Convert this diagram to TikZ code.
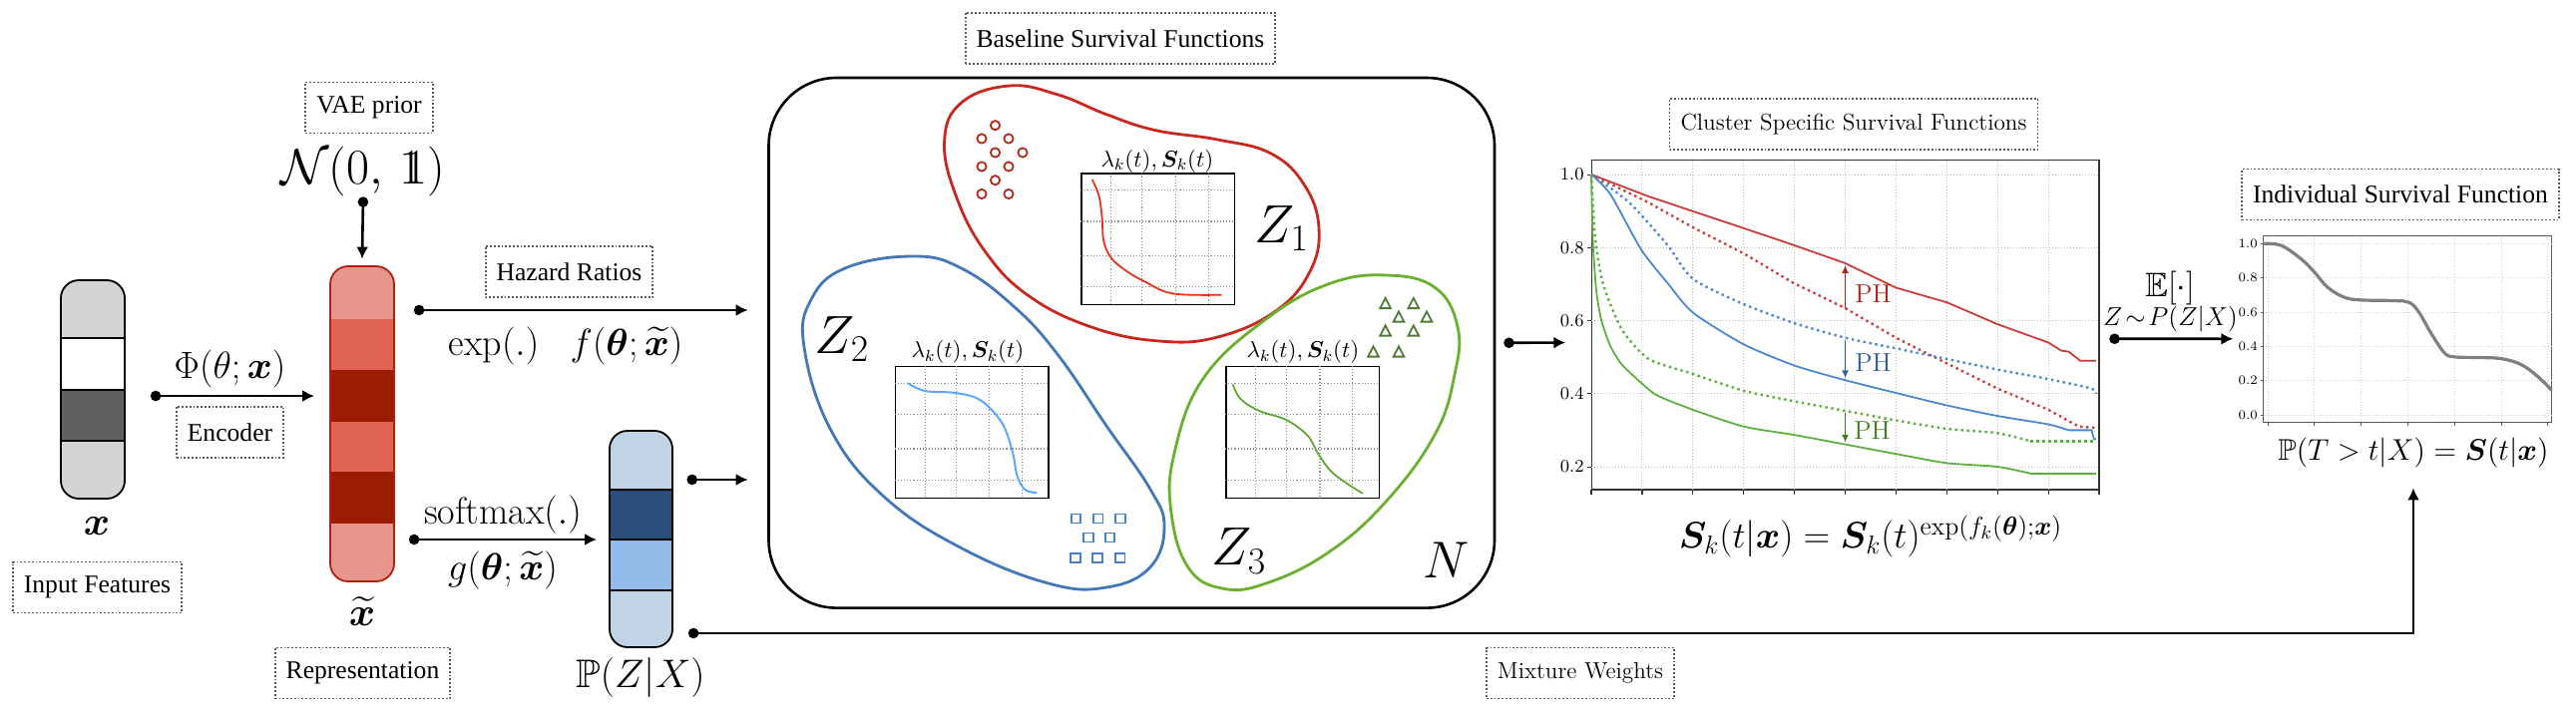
\RequirePackage{fix-cm}
\documentclass[tikz,border=0pt]{standalone}
\usepackage{amsmath,amssymb}
\usepackage{bm}
\usepackage{fontspec}
\newfontfamily\tms{Liberation Serif}
\usetikzlibrary{arrows.meta,calc}
\newcommand\onebb{\mathrm{1\kern-0.36em1}}
\definecolor{lgr}{HTML}{D4D4D4}
\definecolor{dgr}{HTML}{606060}
\definecolor{rlight}{HTML}{E8958C}
\definecolor{rmed}{HTML}{E06451}
\definecolor{rdark}{HTML}{9B1C03}
\definecolor{rborder}{HTML}{B02010}
\definecolor{blight}{HTML}{C1D4E6}
\definecolor{bdark}{HTML}{2D4D7C}
\definecolor{bmed}{HTML}{94BBEA}
\definecolor{redb}{HTML}{C8281E}
\definecolor{blueb}{HTML}{4377B8}
\definecolor{greenb}{HTML}{6AB02E}
\definecolor{redm}{HTML}{B02A1A}
\definecolor{bluem}{HTML}{4A7EC8}
\definecolor{greenm}{HTML}{4F7B38}
\definecolor{redc}{HTML}{E8321E}
\definecolor{bluec}{HTML}{5BA8FF}
\definecolor{greenc}{HTML}{5DA832}
\definecolor{pr}{HTML}{CC3C3A}
\definecolor{pb}{HTML}{4A88D0}
\definecolor{pg}{HTML}{5DB040}
\definecolor{phr}{HTML}{B22418}
\definecolor{phb}{HTML}{2E5E9E}
\definecolor{phg}{HTML}{3F7F1F}
\newcommand\minigrid{%
  \foreach \a in {0.2,0.4,0.62,0.835} {\draw[gridl] (\a,0) -- (\a,1);}
  \foreach \b in {0.13,0.37,0.63,0.87} {\draw[gridl] (0,\b) -- (1,\b);}}
\tikzset{
  lbl/.style={draw=black!65, densely dotted, line width=0.9pt, minimum height=25.5pt,
    inner xsep=5.5pt, font=\tms\fontsize{12.8}{14}\selectfont},
  lblm/.style={lbl, font=\fontsize{11.6}{14}\selectfont},
  conn/.style={line width=1.3pt, {Circle[length=5.2pt]}-{Latex[length=6pt,width=6pt]}},
  mlbl/.style={inner sep=0pt, font=\fontsize{19}{22}\selectfont},
  gridl/.style={black!45, densely dotted, line width=0.55pt},
  chart/.style={draw, line width=0.7pt, inner sep=0pt, minimum width=76.7pt, minimum height=65.8pt},
  blob/.style={line width=1.4pt},
  cgrid/.style={black!25, densely dotted, line width=0.5pt},
  csolid/.style={line width=0.9pt},
  cdot/.style={line width=1.2pt, dash pattern=on 1.2pt off 1.8pt},
  tickl/.style={font=\fontsize{9}{10}\selectfont, anchor=east, inner sep=1pt},
  tickm/.style={font=\fontsize{6.5}{8}\selectfont, anchor=east, inner sep=1pt},
  phl/.style={font=\fontsize{13}{15}\selectfont, anchor=west, inner sep=0pt},
}
\begin{document}
\begin{tikzpicture}[x=0.5pt,y=-0.5pt]
\useasboundingbox (0,0) rectangle (2582,723);

% ---------- input feature bar
\begin{scope}
\clip[rounded corners=9pt] (61,281) rectangle (125,500);
\fill[lgr] (61,281) rectangle (125,339);
\fill[white] (61,339) rectangle (125,391);
\fill[dgr] (61,391) rectangle (125,442);
\fill[lgr] (61,442) rectangle (125,500);
\draw[line width=0.9pt] (61,339) -- (125,339) (61,391) -- (125,391) (61,442) -- (125,442);
\end{scope}
\node[draw, line width=0.9pt, rounded corners=9pt, minimum width=32pt, minimum height=109.5pt, inner sep=0pt] (xin) at (93,390.5) {};
\node[mlbl, font=\fontsize{20}{22}\selectfont] (xlab) at (97,528) {$\bm{x}$};
\node[lbl] (lin) at (97.5,589) {Input Features};

% ---------- representation bar
\begin{scope}
\clip[rounded corners=9pt] (331,267) rectangle (395,583);
\fill[rlight] (331,267) rectangle (395,320);
\fill[rmed] (331,320) rectangle (395,371);
\fill[rdark] (331,371) rectangle (395,423);
\fill[rmed] (331,423) rectangle (395,473);
\fill[rdark] (331,473) rectangle (395,525);
\fill[rlight] (331,525) rectangle (395,583);
\end{scope}
\node[draw=rborder, line width=0.9pt, rounded corners=9pt, minimum width=32pt, minimum height=158pt, inner sep=0pt] (rep) at (363,425) {};
\node[mlbl, font=\fontsize{20}{22}\selectfont] (replab) at (363,613) {$\widetilde{\bm{x}}$};
\node[lbl] (lrep) at (363.5,675) {Representation};

% ---------- prior
\node[lbl] (lvae) at (370,108) {VAE prior};
\node[mlbl, font=\fontsize{25}{28}\selectfont] (prior) at (364,172) {$\mathcal{N}(0,\,\onebb)$};
\draw[conn] (prior.south) -- ([yshift=3.25pt]rep.north);

% ---------- encoder
\draw[conn] ([xshift=12.5pt,yshift=-3.25pt]xin.east) -- ([xshift=-7.5pt,yshift=14pt]rep.west);
\node[mlbl] (phi) at (230.5,370) {$\Phi(\theta;\bm{x})$};
\node[lbl] (lenc) at (230.5,433.5) {Encoder};

% ---------- P(Z|X) bar
\begin{scope}
\clip[rounded corners=9pt] (611,432) rectangle (674,649);
\fill[blight] (611,432) rectangle (674,491);
\fill[bdark] (611,491) rectangle (674,541);
\fill[bmed] (611,541) rectangle (674,592);
\fill[blight] (611,592) rectangle (674,649);
\draw[line width=0.9pt] (611,491) -- (674,491) (611,541) -- (674,541) (611,592) -- (674,592);
\end{scope}
\node[draw, line width=0.9pt, rounded corners=9pt, minimum width=31.5pt, minimum height=108.5pt, inner sep=0pt] (pz) at (642.5,540.5) {};
\node[mlbl, font=\fontsize{20}{22}\selectfont] (pzlab) at (642,679) {$\mathbb{P}(Z|X)$};

% ---------- big box
\node[draw, line width=1.3pt, rounded corners=34pt, minimum width=363.75pt, minimum height=265.8pt, inner sep=0pt] (bigbox) at (1134.25,343.8) {};
\node[lbl] (lbase) at (1123,38.3) {Baseline Survival Functions};

% hazard / softmax connectors
\draw[conn] ([xshift=9.5pt,yshift=57pt]rep.east) -- ([xshift=-9.75pt,yshift=16.4pt]bigbox.west);
\node[lbl] (lhaz) at (570.5,272.5) {Hazard Ratios};
\node[mlbl] (expl) at (495,347) {$\exp(.)$};
\node[mlbl] (fl) at (628,347) {$f(\bm{\theta};\widetilde{\bm{x}})$};
\draw[conn] ([xshift=7pt,yshift=-58pt]rep.east) -- ([xshift=-6pt,yshift=-0.25pt]pz.west);
\node[mlbl] (smax) at (504,516) {$\mathrm{softmax}(.)$};
\node[mlbl] (gl) at (504,572) {$g(\bm{\theta};\widetilde{\bm{x}})$};
\draw[conn] ([xshift=6.8pt,yshift=29.75pt]pz.east) -- ([xshift=-9.75pt,yshift=-68.6pt]bigbox.west);

% ---------- blobs
\draw[blob, draw=redb] plot[smooth cycle, tension=0.7] coordinates {(946.6,142) (963.6,103) (1012,86) (1060.5,95) (1109,114.7) (1157.5,130.5) (1220.5,140) (1274,154) (1307.7,186) (1322,229) (1312.6,273) (1278.6,312) (1220.5,338) (1162,342) (1094,328) (1031,296.6) (988,253) (958.7,197.7)};
\draw[blob, draw=blueb] plot[smooth cycle, tension=0.7] coordinates {(806,348) (813,300.5) (847,269) (915,257) (963.6,269) (1017,308) (1060.5,356) (1109,427) (1152.6,490) (1167,528) (1152.6,569) (1109,589) (1051,585) (963.6,549.6) (886,498) (832.7,431)};
\draw[blob, draw=greenb] plot[smooth cycle, tension=0.7] coordinates {(1390,276) (1438.6,288.6) (1461,328) (1458,375.6) (1438.6,435) (1390,502) (1332,553.6) (1269,585) (1225,590) (1191,569) (1174,514) (1177,454.7) (1206,379.6) (1269,320) (1332,284.7)};

% markers
\foreach \p in {(997.5,125.7),(984,139),(1011,139),(997.5,153),(1025,153),(984,167),(1011,167),(997.5,180.7),(984,194.5),(1011,194.5)}
  \draw[redm, line width=0.9pt] \p circle[radius=4.6];
\foreach \p in {(1078.4,520),(1100.7,520),(1123,520),(1091,539),(1112.4,539),(1078,559.5),(1100,559.5),(1122.6,559.5)}
  \draw[bluem, line width=0.9pt] \p ++(-4.8,-4.5) rectangle ++(9.6,9);
\foreach \p in {(1388.6,304.5),(1416.8,304.5),(1402,318),(1430,318),(1388.6,332),(1416.8,332),(1376.5,353),(1402,353)}
  \draw[greenm, line width=0.9pt] \p ++(-5.3,4.6) -- ++(10.6,0) -- ++(-5.3,-10.2) -- cycle;

% mini charts
\node[chart] (c1) at (1160.6,239.8) {};
\node[chart] (c2) at (974.2,433.55) {};
\node[chart] (c3) at (1305.5,433.55) {};
\begin{scope}[shift={(c1.north west)}]\begin{scope}[x=76.8pt,y=-65.8pt]
\minigrid
\draw[redc, line width=0.9pt] plot[smooth, tension=0.6] coordinates {(0.075,0.05) (0.12,0.18) (0.14,0.35) (0.15,0.52) (0.2,0.65) (0.3,0.75) (0.42,0.83) (0.6,0.92) (0.92,0.93)};
\end{scope}\end{scope}
\begin{scope}[shift={(c2.north west)}]\begin{scope}[x=76.6pt,y=-65.85pt]
\minigrid
\draw[bluec, line width=1pt] plot[smooth, tension=0.6] coordinates {(0.085,0.13) (0.2,0.19) (0.4,0.205) (0.56,0.26) (0.7,0.43) (0.77,0.65) (0.8,0.83) (0.85,0.94) (0.93,0.965)};
\end{scope}\end{scope}
\begin{scope}[shift={(c3.north west)}]\begin{scope}[x=76.5pt,y=-65.85pt]
\minigrid
\draw[greenc, line width=0.9pt] plot[smooth, tension=0.6] coordinates {(0.05,0.14) (0.1,0.25) (0.22,0.34) (0.4,0.41) (0.54,0.53) (0.61,0.67) (0.71,0.82) (0.9,0.97)};
\end{scope}\end{scope}
\node[inner sep=0pt, font=\fontsize{11.5}{13}\selectfont] (lam1) at (1160,161.7) {$\lambda_k(t),\bm{S}_k(t)$};
\node[inner sep=0pt, font=\fontsize{11.5}{13}\selectfont] (lam2) at (970,353) {$\lambda_k(t),\bm{S}_k(t)$};
\node[inner sep=0pt, font=\fontsize{11.5}{13}\selectfont] (lam3) at (1306,353) {$\lambda_k(t),\bm{S}_k(t)$};

\node[inner sep=0pt, font=\fontsize{27}{30}\selectfont] (z1) at (1284.7,229) {$Z_1$};
\node[inner sep=0pt, font=\fontsize{27}{30}\selectfont] (z2) at (844,340) {$Z_2$};
\node[inner sep=0pt, font=\fontsize{27}{30}\selectfont] (z3) at (1242,552.5) {$Z_3$};
\node[inner sep=0pt, font=\fontsize{26}{30}\selectfont] (nn) at (1450,561.5) {$N$};

% ---------- cluster specific plot
\node[lblm] (lclu) at (1858,124.5) {Cluster Specific Survival Functions};
\node[draw=black!80, line width=0.7pt, minimum width=254.3pt, minimum height=165.25pt, inner sep=0pt] (cplot) at (1849.7,325.75) {};
\draw[conn] ([xshift=4pt]bigbox.east) -- ([xshift=-12.7pt,yshift=-8.9pt]cplot.west);
\begin{scope}[shift={(1595,541.25)}]\begin{scope}[x=25.45pt,y=183.125pt]
\foreach \t in {1,...,9} \draw[cgrid] (\t,0.137) -- (\t,1.039);
\foreach \v in {0.2,0.4,0.6,0.8,1.0} \draw[cgrid] (0,\v) -- (9.99,\v);
\foreach \t in {0,...,10} \draw[black!80, line width=0.6pt] (\t,0.137) -- (\t,0.124);
\foreach \v in {0.2,0.4,0.6,0.8,1.0} {\draw[black!80, line width=0.5pt] (0,\v) -- (-0.07,\v); \node[tickl] at (-0.1,\v) {\v};}
\draw[pr, csolid] plot coordinates {(0,1) (0.376,0.98) (1.13,0.94) (1.88,0.905) (3,0.853) (3.98,0.807) (5,0.757) (6,0.69) (7,0.65) (8,0.59) (9,0.54) (9.25,0.518) (9.4,0.515) (9.63,0.49) (9.94,0.49)};
\draw[pr, cdot] plot coordinates {(0,1) (1.13,0.923) (2.03,0.853) (3,0.784) (3.98,0.703) (5,0.634) (6,0.553) (7,0.483) (8,0.414) (9,0.356) (9.6,0.31) (9.94,0.306)};
\draw[pb, csolid] plot[smooth, tension=0.4] coordinates {(0,1) (0.376,0.946) (0.98,0.795) (1.5,0.703) (2,0.622) (3,0.535) (4,0.477) (5,0.437) (6,0.402) (7,0.368) (8,0.339) (9,0.316) (9.4,0.30)};
\draw[pb, csolid] (9.4,0.30) -- (9.85,0.30) -- (9.9,0.276) -- (9.94,0.276);
\draw[pb, cdot] plot[smooth, tension=0.4] coordinates {(0,1) (0.75,0.923) (1.5,0.807) (2,0.714) (3,0.645) (4,0.593) (5,0.553) (6,0.524) (7,0.495) (8,0.466) (9,0.44) (9.85,0.414) (9.94,0.40)};
\draw[pg, csolid] plot[smooth, tension=0.4] coordinates {(0,1) (0.03,0.82) (0.1,0.68) (0.2,0.6) (0.376,0.53) (0.6,0.48) (0.98,0.43) (1.3,0.395) (2,0.356) (3,0.31) (4,0.287) (5,0.261) (6,0.235) (7,0.21) (8,0.2) (8.7,0.18)};
\draw[pg, csolid] (8.7,0.18) -- (9.94,0.18);
\draw[pg, cdot] plot[smooth, tension=0.4] coordinates {(0,1) (0.075,0.83) (0.226,0.703) (0.6,0.576) (1.13,0.495) (2,0.454) (3,0.408) (4,0.379) (5,0.353) (6,0.327) (7,0.304) (8,0.292) (8.65,0.27)};
\draw[pg, cdot] (8.65,0.27) -- (9.94,0.27);
\draw[phr, line width=0.8pt, -{Latex[length=4pt,width=3.5pt]}] (5,0.634) -- (5,0.752);
\draw[phb, line width=0.8pt, -{Latex[length=4pt,width=3.5pt]}] (5,0.547) -- (5,0.442);
\draw[phg, line width=0.8pt, -{Latex[length=4pt,width=3.5pt]}] (5,0.347) -- (5,0.266);
\end{scope}\end{scope}
\node[phl, text=phr] (ph1) at (1859,294.6) {PH};
\node[phl, text=phb] (ph2) at (1859,363.6) {PH};
\node[phl, text=phg] (ph3) at (1858,432) {PH};
\node[inner sep=0pt, font=\fontsize{18.5}{21}\selectfont] (cform) at (1875,537.8) {$\bm{S}_k(t|\bm{x})=\bm{S}_k(t)^{\exp(f_k(\bm{\theta});\bm{x})}$};

% ---------- individual plot
\node[lbl] (lind) at (2406,195) {Individual Survival Function};
\node[draw=black!65, line width=0.6pt, minimum width=144.55pt, minimum height=93.4pt, inner sep=0pt] (iplot) at (2413.05,329.9) {};
\draw[conn] ([xshift=4.8pt,yshift=-7pt]cplot.east) -- ([xshift=-14.75pt,yshift=-4.95pt]iplot.west);
\node[inner sep=0pt, font=\fontsize{17}{19}\selectfont] (expect) at (2175,289) {$\mathbb{E}[\cdot]$};
\node[inner sep=0pt, font=\fontsize{13}{15}\selectfont] (zsim) at (2175.5,320) {$Z\!\sim\! P(Z|X)$};
\begin{scope}[shift={(2273,416)}]\begin{scope}[x=23.4pt,y=85.8pt]
\foreach \t in {0,...,6} \draw[black!18, densely dotted, line width=0.4pt] (\t,-0.0425) -- (\t,1.046);
\foreach \v in {0.0,0.2,0.4,0.6,0.8,1.0} \draw[black!18, densely dotted, line width=0.4pt] (-0.096,\v) -- (6.08,\v);
\foreach \t in {0,...,6} \draw[black!65, line width=0.5pt] (\t,-0.0425) -- (\t,-0.065);
\foreach \v in {0.0,0.2,0.4,0.6,0.8,1.0} {\draw[black!65, line width=0.4pt] (-0.096,\v) -- (-0.15,\v); \node[tickm] at (-0.17,\v) {\v};}
\draw[black!50, line width=1.6pt] plot[smooth, tension=0.6] coordinates {(-0.096,1.0) (0.285,0.99) (0.71,0.912) (1.0,0.834) (1.28,0.746) (1.64,0.687) (2.0,0.671) (2.71,0.667) (3.03,0.657) (3.24,0.599) (3.49,0.481) (3.78,0.364) (3.99,0.339) (4.49,0.335) (4.99,0.329) (5.42,0.295) (5.77,0.227) (6.08,0.145)};
\end{scope}\end{scope}
\node[inner sep=0pt, font=\fontsize{15}{17}\selectfont] (pform) at (2419,454) {$\mathbb{P}(T>t|X)=\bm{S}(t|\bm{x})$};

% ---------- mixture weights
\draw[conn, rounded corners=0pt] ([xshift=7.5pt,yshift=-47.25pt]pz.east) -| ([yshift=-10pt]pform.south);
\node[lblm] (lmix) at (1584,675) {Mixture Weights};
\end{tikzpicture}
\end{document}
